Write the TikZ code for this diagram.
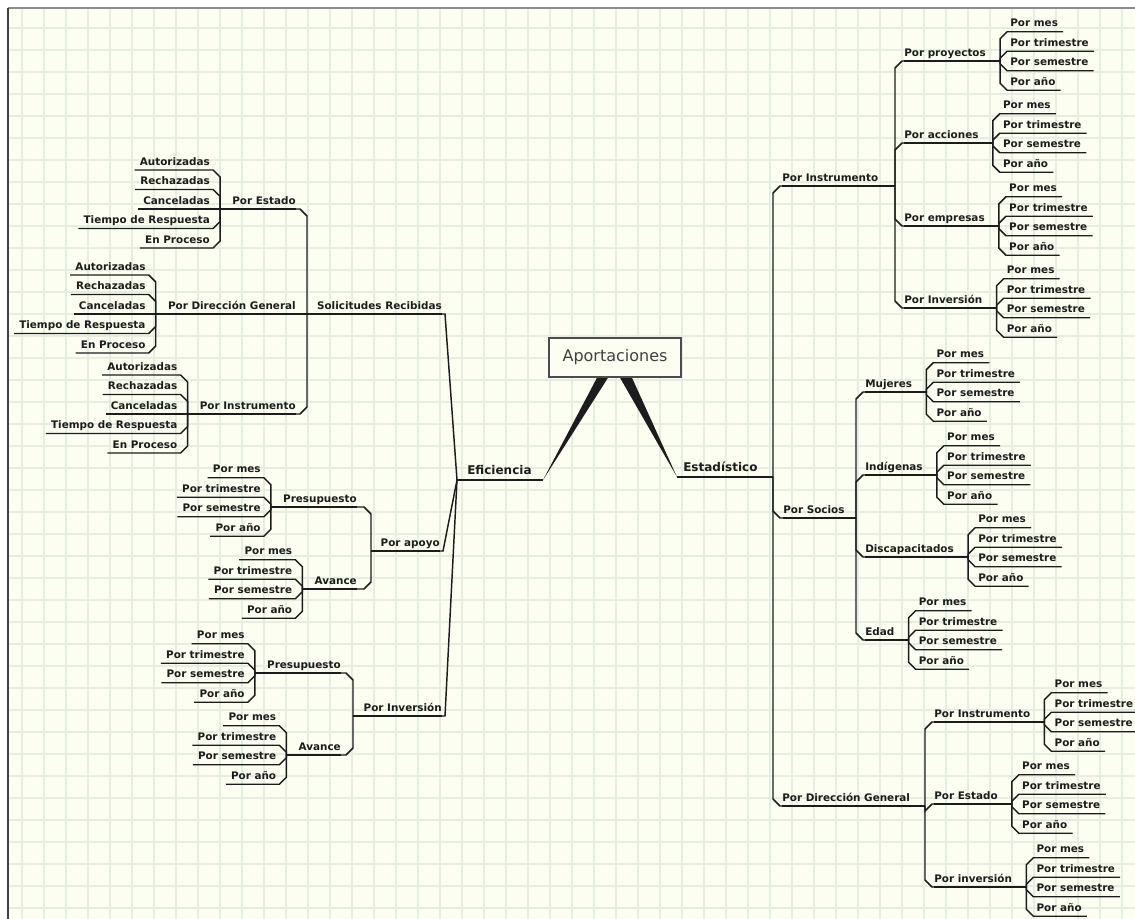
\documentclass[tikz,border=0pt]{standalone}
\usepackage{fontspec}
\usepackage{tikz}
\usetikzlibrary{calc}
\newfontfamily\mapfont{DejaVu Sans}
\definecolor{papel}{RGB}{253,254,242}
\definecolor{rejilla}{RGB}{229,238,224}
\definecolor{tinta}{RGB}{28,28,28}
\newcommand{\porlist}{Por mes, Por trimestre, Por semestre, Por año}
\newcommand{\sollist}{Autorizadas, Rechazadas, Canceladas, Tiempo de Respuesta, En Proceso}
% connector from a vertical bar to a child (right / left side)
\newcommand{\ramaR}[2]{%
  \draw[link] let \p1=(#1), \p2=(#2.south west) in
    (\p1) -- (\x1,{\y2+5.25pt*((\y1-\y2)>0.5pt)-5.25pt*((\y2-\y1)>0.5pt)})
    -- (\x1+5.25pt,\y2) -- (\p2) -- ($(#2.south east)+(5,0)$);}
\newcommand{\ramaL}[2]{%
  \draw[link] let \p1=(#1), \p2=(#2.south east) in
    (\p1) -- (\x1,{\y2+5.25pt*((\y1-\y2)>0.5pt)-5.25pt*((\y2-\y1)>0.5pt)})
    -- (\x1-5.25pt,\y2) -- (\p2) -- ($(#2.south west)+(-5,0)$);}
% underline of a parent up to its bar
\newcommand{\lineaR}[1]{%
  \draw[link] (#1.south west) -- (#1-v);
  \draw[stub] ($(#1-v)+(-10,0)$) -- (#1-v);}
\newcommand{\lineaL}[1]{%
  \draw[link] (#1.south east) -- (#1-v);
  \draw[stub] ($(#1-v)+(10,0)$) -- (#1-v);}
\newcommand{\juntaR}[2]{\coordinate (#1-v) at ($(#1.south east)+(#2,0)$); \lineaR{#1}}
\newcommand{\juntaL}[2]{\coordinate (#1-v) at ($(#1.south west)+(-#2,0)$); \lineaL{#1}}
% leaves
\newcommand{\hojasR}[3]{%
  \foreach \t [count=\i] in #2 {
    \node[leaf, anchor=south west] (#1-\i) at ($(#1-v)+(10,{(\i-(#3+1)/2)*19.5})$) {\t};
    \ramaR{#1-v}{#1-\i}
  }}
\newcommand{\hojasL}[3]{%
  \foreach \t [count=\i] in #2 {
    \node[leaf, anchor=south east] (#1-\i) at ($(#1-v)+(-10,{(\i-(#3+1)/2)*19.5})$) {\t};
    \ramaL{#1-v}{#1-\i}
  }}

\begin{document}
\begin{tikzpicture}[
      x=0.75pt, y=-0.75pt,
      leaf/.style={font=\mapfont\bfseries\fontsize{7.8}{9}\selectfont, text=tinta,
        inner xsep=0pt, inner ysep=3.5pt, text height=6pt, text depth=0pt},
      topic/.style={leaf},
      branch/.style={leaf, font=\mapfont\bfseries\fontsize{9}{11}\selectfont,
        inner ysep=4pt, text height=7pt},
      root/.style={draw=black!70, line width=1.1pt, fill=papel, text=black!75,
        font=\mapfont\fontsize{12}{14}\selectfont,
        minimum width=99pt, minimum height=29.25pt, inner sep=0pt},
      link/.style={draw=tinta, line width=1.1pt},
      stub/.style={draw=tinta, line width=2.2pt},
      gridline/.style={draw=rejilla, line width=1.1pt}
  ]
  \useasboundingbox (0,0) rectangle (1135,919);
  \fill[white] (0,0) rectangle (1135,919);
  \fill[papel] (8,8) rectangle (1135,919);
  \foreach \gx in {22,44,...,1122} \draw[gridline] (\gx,9) -- (\gx,919);
  \foreach \gy in {28,50,...,914} \draw[gridline] (9,\gy) -- (1135,\gy);
  \draw[black!45, line width=1.1pt] (8,8) -- (1135,8);
  \draw[black!75, line width=1.6pt] (8,8) -- (8,919);

  % root and main branches
  \node[root] (cen) at (615,357.5) {Aportaciones};
  \node[branch, anchor=south west] (efi) at (467,480) {Eficiencia};
  \node[branch, anchor=south west] (est) at (683,477) {Estadístico};
  \coordinate (efi-v) at (457,480);
  \coordinate (efi-t) at (543,480);
  \coordinate (est-t) at (677,477);
  \coordinate (est-v) at (773,477);
  \fill[tinta] ($(cen.south)+(-18,0)$) -- ($(cen.south)+(-7,0)$) -- (efi-t) -- cycle;
  \fill[tinta] ($(cen.south)+(5,0)$) -- ($(cen.south)+(17,0)$) -- (est-t) -- cycle;
  \draw[link] (efi-v) -- (efi-t);
  \draw[stub] (efi-v) -- ($(efi-v)+(10,0)$);
  \draw[link] (est-t) -- (est-v);
  \draw[stub] ($(est-v)+(-10,0)$) -- (est-v);
  \node[root] at (cen) {Aportaciones};

  % Estadistico
  \node[topic, anchor=south west] (ins) at (782,186) {Por Instrumento};
  \node[topic, anchor=south west] (soc) at (783,518) {Por Socios};
  \node[topic, anchor=south west] (dir) at (782,806) {Por Dirección General};
  \coordinate (ins-v) at (895,186);
  \coordinate (soc-v) at (856,518);
  \coordinate (dir-v) at (925,806);
  \foreach \nd in {ins,soc,dir} {\ramaR{est-v}{\nd} \lineaR{\nd}}

  \foreach \nd/\yy/\txt in {pro/61/Por proyectos, acc/143/Por acciones,
      emp/226/Por empresas, inv/308/Por Inversión} {
    \node[topic, anchor=south west] (\nd) at (904,\yy) {\txt};
    \ramaR{ins-v}{\nd}
    \juntaR{\nd}{14}
    \hojasR{\nd}{\porlist}{4}
  }
  \foreach \nd/\yy/\txt in {muj/392/Mujeres, ind/475/Indígenas,
      dis/557/Discapacitados, eda/640/Edad} {
    \node[topic, anchor=south west] (\nd) at (865,\yy) {\txt};
    \ramaR{soc-v}{\nd}
    \juntaR{\nd}{14}
    \hojasR{\nd}{\porlist}{4}
  }
  \foreach \nd/\yy/\txt in {dins/722/Por Instrumento, dest/804/Por Estado,
      dinv/887/Por inversión} {
    \node[topic, anchor=south west] (\nd) at (934,\yy) {\txt};
    \ramaR{dir-v}{\nd}
    \juntaR{\nd}{14}
    \hojasR{\nd}{\porlist}{4}
  }

  % Eficiencia
  \node[topic, anchor=south east] (sol) at (442,314) {Solicitudes Recibidas};
  \node[topic, anchor=south east] (apo) at (440,551) {Por apoyo};
  \node[topic, anchor=south east] (pinv) at (442,716) {Por Inversión};
  \coordinate (sol-v) at (307,314);
  \coordinate (apo-v) at (371,551);
  \coordinate (pinv-v) at (353,716);
  \foreach \nd in {sol,apo,pinv} {
    \draw[link] (efi-v) -- ($(\nd.south east)+(3,0)$) -- (\nd.south east);
    \lineaL{\nd}
  }

  \foreach \nd/\yy/\txt in {sest/209/Por Estado, sdir/314/Por Dirección General,
      sins/414/Por Instrumento} {
    \node[topic, anchor=south east] (\nd) at (296,\yy) {\txt};
    \ramaL{sol-v}{\nd}
    \juntaL{\nd}{12}
    \hojasL{\nd}{\sollist}{5}
  }
  \foreach \nd/\yy/\txt in {apre/507/Presupuesto, aava/589/Avance} {
    \node[topic, anchor=south east] (\nd) at (357,\yy) {\txt};
    \ramaL{apo-v}{\nd}
    \juntaL{\nd}{12}
    \hojasL{\nd}{\porlist}{4}
  }
  \foreach \nd/\yy/\txt in {ipre/673/Presupuesto, iava/755/Avance} {
    \node[topic, anchor=south east] (\nd) at (341,\yy) {\txt};
    \ramaL{pinv-v}{\nd}
    \juntaL{\nd}{12}
    \hojasL{\nd}{\porlist}{4}
  }
\end{tikzpicture}
\end{document}
